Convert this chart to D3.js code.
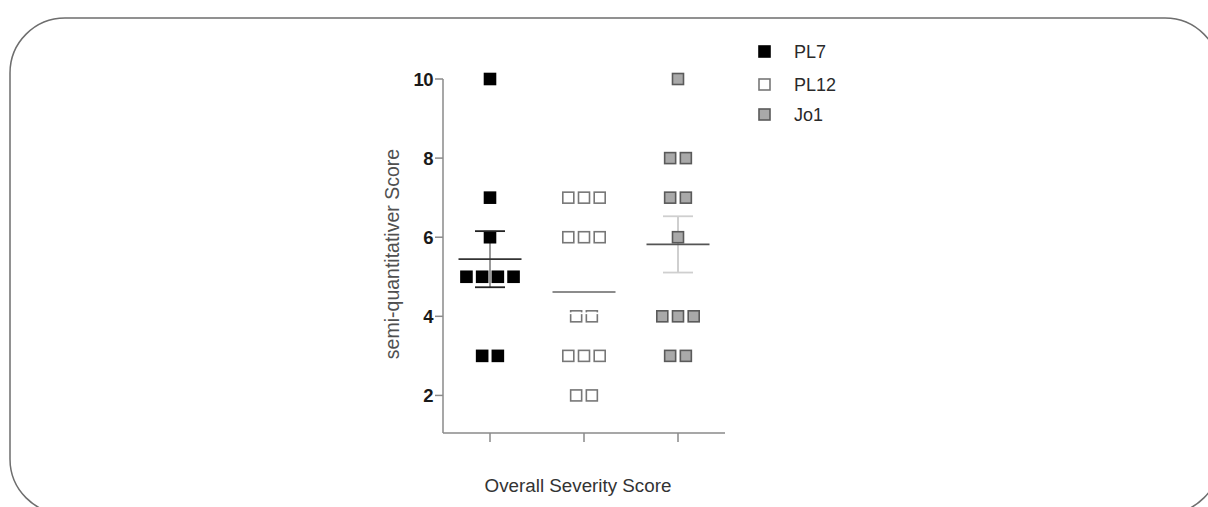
<!DOCTYPE html>
<html>
<head>
<meta charset="utf-8">
<script src="https://cdn.jsdelivr.net/npm/d3@7"></script>
<style>
  body { margin: 0; background: #fff; }
  svg { display: block; }
</style>
</head>
<body>
<svg id="chart" width="1208" height="507"></svg>
<script>
// data
let groups = ["PL7", "PL12", "Jo1"];
let pl7Values = [10, 7, 6, 5, 5, 5, 5, 3, 3];
let pl12Values = [7, 7, 7, 6, 6, 6, 4, 4, 3, 3, 3, 2, 2];
let jo1Values = [10, 8, 8, 7, 7, 6, 4, 4, 4, 3, 3];
let yTicks = [2, 4, 6, 8, 10];

let seriesValues = [pl7Values, pl12Values, jo1Values];
let fillColors = ["#000000", "#ffffff", "#a9a9a9"];
let strokeColors = ["#000000", "#777777", "#5a5a5a"];
let meanColors = ["#333333", "#8c8c8c", "#555555"];
let errColors = ["#222222", "#ffffff", "#cfcfcf"];
let axisColor = "#8a8a8a";

let svg = d3.select("#chart");

// rounded frame
svg.append("rect")
  .attr("x", 10).attr("y", 18)
  .attr("width", 1210).attr("height", 496)
  .attr("rx", 55).attr("ry", 55)
  .style("fill", "none")
  .style("stroke", "#6e6e6e")
  .style("stroke-width", 1.5);

let x = d3.scalePoint()
  .domain(groups)
  .range([443, 725])
  .padding(0.5);

let y = d3.scaleLinear()
  .domain([1.05, 10])
  .range([433, 79]);

let squareSize = 11;
let jitter = 15.7;

// axes
svg.append("line")
  .attr("x1", 443).attr("x2", 443)
  .attr("y1", y(10)).attr("y2", y(1.05))
  .style("stroke", axisColor).style("stroke-width", 1.5);
svg.append("line")
  .attr("x1", 443).attr("x2", 725)
  .attr("y1", y(1.05)).attr("y2", y(1.05))
  .style("stroke", axisColor).style("stroke-width", 1.5);

svg.selectAll(".yTick")
  .data(yTicks)
  .enter()
  .append("line")
    .attr("x1", 435).attr("x2", 443)
    .attr("y1", function(d) { return y(d); })
    .attr("y2", function(d) { return y(d); })
    .style("stroke", axisColor).style("stroke-width", 1.5);

svg.selectAll(".yTickLabel")
  .data(yTicks)
  .enter()
  .append("text")
    .attr("x", 433)
    .attr("y", function(d) { return y(d); })
    .attr("dy", "0.36em")
    .text(function(d) { return d; })
    .style("text-anchor", "end")
    .style("font-family", "Liberation Sans, Arial, sans-serif")
    .style("font-weight", "bold")
    .style("font-size", "18.5px")
    .style("letter-spacing", "-0.5px")
    .style("fill", "#1a1a1a");

svg.selectAll(".xTick")
  .data(groups)
  .enter()
  .append("line")
    .attr("x1", function(d) { return x(d); })
    .attr("x2", function(d) { return x(d); })
    .attr("y1", y(1.05)).attr("y2", y(1.05) + 9)
    .style("stroke", axisColor).style("stroke-width", 1.5);

// axis titles
svg.append("text")
  .attr("transform", "translate(399," + 254 + ") rotate(-90)")
  .text("semi-quantitativer Score")
  .style("text-anchor", "middle")
  .style("font-family", "Liberation Sans, Arial, sans-serif")
  .style("font-size", "19.5px")
  .style("fill", "#505050");

svg.append("text")
  .attr("x", 578).attr("y", 492)
  .text("Overall Severity Score")
  .style("text-anchor", "middle")
  .style("font-family", "Liberation Sans, Arial, sans-serif")
  .style("font-size", "18.8px")
  .style("fill", "#333333");

// points, mean lines and SEM bars for each group
groups.forEach(function(g, gi) {
  let values = seriesValues[gi];
  let counts = d3.rollup(values, function(v) { return v.length; }, function(v) { return v; });
  let seen = new Map();
  let points = values.map(function(v) {
    let k = seen.get(v) || 0;
    seen.set(v, k + 1);
    return { value: v, offset: (k - (counts.get(v) - 1) / 2) * jitter };
  });

  let mean = d3.mean(values);
  let sem = d3.deviation(values) / Math.sqrt(values.length);
  let cx = x(g);

  // error bar stem behind the points
  svg.append("line")
    .attr("x1", cx).attr("x2", cx)
    .attr("y1", y(mean + sem)).attr("y2", y(mean - sem))
    .style("stroke", gi == 0 ? "#999999" : errColors[gi])
    .style("stroke-width", 2);

  svg.selectAll(".pt" + gi)
    .data(points)
    .enter()
    .append("rect")
      .attr("x", function(d) { return cx + d.offset - squareSize / 2; })
      .attr("y", function(d) { return y(d.value) - squareSize / 2; })
      .attr("width", squareSize)
      .attr("height", squareSize)
      .style("fill", fillColors[gi])
      .style("stroke", strokeColors[gi])
      .style("stroke-width", 1.6);

  // caps on top
  [mean + sem, mean - sem].forEach(function(v) {
    svg.append("line")
      .attr("x1", cx - 15).attr("x2", cx + 15)
      .attr("y1", y(v)).attr("y2", y(v))
      .style("stroke", errColors[gi])
      .style("stroke-width", 1.8);
  });

  // mean line
  svg.append("line")
    .attr("x1", cx - 31.5).attr("x2", cx + 31.5)
    .attr("y1", y(mean)).attr("y2", y(mean))
    .style("stroke", meanColors[gi])
    .style("stroke-width", 1.8);
});

// legend
let legendY = [51.5, 84.5, 114.5];
svg.selectAll(".legendBox")
  .data(groups)
  .enter()
  .append("rect")
    .attr("x", 759)
    .attr("y", function(d, i) { return legendY[i] - 5.5; })
    .attr("width", 11).attr("height", 11)
    .style("fill", function(d, i) { return fillColors[i]; })
    .style("stroke", function(d, i) { return strokeColors[i]; })
    .style("stroke-width", 1.6);

svg.selectAll(".legendText")
  .data(groups)
  .enter()
  .append("text")
    .attr("x", 794)
    .attr("y", function(d, i) { return legendY[i]; })
    .attr("dy", "0.36em")
    .text(function(d) { return d; })
    .style("font-family", "Liberation Sans, Arial, sans-serif")
    .style("font-size", "18px")
    .style("fill", "#2a2a2a");
</script>
</body>
</html>
